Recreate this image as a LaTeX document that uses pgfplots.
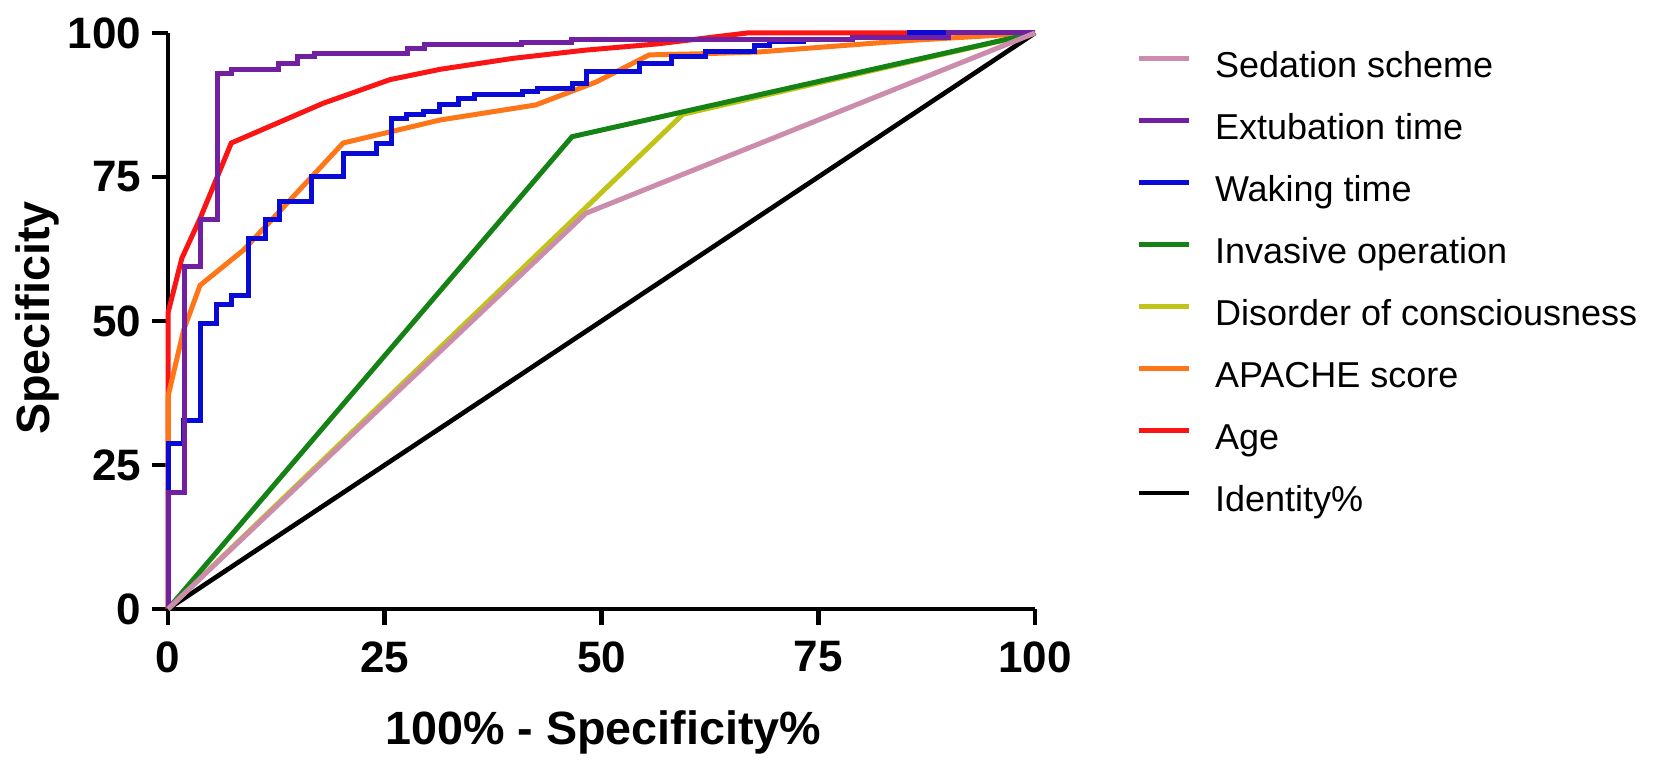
\documentclass[border=0pt]{standalone}
\usepackage{fontspec}
\setmainfont{Liberation Sans}
\usepackage{pgfplots}
\pgfplotsset{compat=1.18}

\definecolor{sedation}{RGB}{204,140,172}
\definecolor{extubation}{RGB}{112,32,160}
\definecolor{waking}{RGB}{10,10,215}
\definecolor{invasive}{RGB}{20,130,20}
\definecolor{disorder}{RGB}{192,196,24}
\definecolor{apache}{RGB}{255,118,24}
\definecolor{age}{RGB}{250,20,20}

\begin{document}
\begin{tikzpicture}
\useasboundingbox (0,0) rectangle (503.1pt,230.1pt);
\begin{axis}[
    at={(50.4pt,47.4pt)}, anchor=south west,
    scale only axis, width=260.1pt, height=172.8pt,
    xmin=0, xmax=100, ymin=0, ymax=100,
    axis x line*=bottom, axis y line*=left,
    axis line style={line width=1.4pt, black},
    xtick={0,25,50,75,100}, ytick={0,25,50,75,100},
    tick align=outside, major tick length=4.8pt,
    tick style={line width=1.4pt, black},
    /pgf/number format/assume math mode=true,
    tick label style={font=\fontsize{13.2}{15}\selectfont\bfseries, inner sep=0pt},
    yticklabel style={anchor=east, xshift=-3pt},
    xticklabel style={anchor=north, yshift=-4.8pt},
    xlabel={100\% - Specificity\%},
    ylabel={Specificity},
    label style={font=\fontsize{14}{16}\selectfont\bfseries},
    xlabel style={at={(axis description cs:0.502,-0.2135)}, anchor=center},
    ylabel style={at={(axis description cs:-0.1505,0.505)}, anchor=center, rotate=0},
    clip=false,
    every axis plot/.append style={line width=1.5pt, no marks},
    reverse legend,
    legend cell align=left,
    legend image code/.code={\draw[#1] (0pt,3.9pt) -- (15pt,3.9pt);},
    legend style={
        at={(axis description cs:1.1165,0.9875)}, anchor=north west,
        draw=none, fill=none, inner sep=0pt,
        font=\fontsize{10.8}{13}\selectfont,
        /tikz/column sep=7pt, /tikz/row sep=0pt,
        nodes={inner sep=0pt, text height=11pt, text depth=7.6pt}
    }
]
% Identity
\addplot[black, line width=1.4pt] coordinates {(0,0) (100,100)};
\addlegendentry{Identity\%}
% Age
\addplot[age] coordinates {
    (0,0) (0,51.4) (1.6,60.9) (3.7,67.8) (7.3,80.9) (17.9,87.8) (25.6,91.9)
    (31.4,93.7) (39.8,95.6) (48,97) (56.4,98.1) (66.8,100) (100,100)
};
\addlegendentry{Age}
% APACHE score
\addplot[apache] coordinates {
    (0,0) (0,29.3) (0,36.9) (1.8,48.4) (3.7,56.2) (8.7,62.3) (20.2,80.9)
    (31.4,84.9) (42.4,87.5) (49.4,91.5) (55.5,96.2) (61.6,96.4) (68.1,96.7)
    (85.5,98.7) (100,100)
};
\addlegendentry{APACHE score}
% Disorder of consciousness
\addplot[disorder] coordinates {(0,0) (59.4,85.9) (100,100)};
\addlegendentry{Disorder of consciousness}
% Invasive operation
\addplot[invasive] coordinates {(0,0) (46.6,82.0) (100,100)};
\addlegendentry{Invasive operation}
% Waking time
\addplot[waking] coordinates {
    (0,0) (0,28.8) (1.8,28.8) (1.8,32.8) (3.7,32.8) (3.7,49.6) (5.6,49.6)
    (5.6,52.8) (7.3,52.8) (7.3,54.5) (9.3,54.5) (9.3,64.4) (11.2,64.4)
    (11.2,67.6) (12.9,67.6) (12.9,70.8) (16.6,70.8) (16.6,75.1) (20.2,75.1)
    (20.2,79.1) (24.1,79.1) (24.1,80.9) (25.8,80.9) (25.8,85.2) (27.5,85.2)
    (27.5,85.8) (29.5,85.8) (29.5,86.4) (31.3,86.4) (31.3,87.5) (33.5,87.5)
    (33.5,88.7) (35.4,88.7) (35.4,89.3) (40.9,89.3) (40.9,89.8) (42.6,89.8)
    (42.6,90.4) (46.6,90.4) (46.6,91.3) (48.3,91.3) (48.3,93.3) (54.4,93.3)
    (54.4,94.7) (58.1,94.7) (58.1,95.9) (62,95.9) (62,96.8) (67.7,96.8)
    (67.7,97.9) (69.4,97.9) (69.4,98.5) (73.3,98.5) (73.3,98.8) (79,98.8)
    (79,99.2) (85.5,99.2) (85.5,100) (100,100)
};
\addlegendentry{Waking time}
% Extubation time
\addplot[extubation] coordinates {
    (0,0) (0,20.3) (1.9,20.3) (1.9,59.4) (3.8,59.4) (3.8,67.6) (5.7,67.6)
    (5.7,93.0) (7.3,93.0) (7.3,93.6) (12.8,93.6) (12.8,94.7) (14.9,94.7)
    (14.9,95.9) (16.9,95.9) (16.9,96.5) (27.6,96.5) (27.6,97.3) (29.6,97.3)
    (29.6,98.0) (40.8,98.0) (40.8,98.4) (46.5,98.4) (46.5,98.8) (79,98.8)
    (79,99.3) (90,99.3) (90,100) (100,100)
};
\addlegendentry{Extubation time}
% Sedation scheme
\addplot[sedation] coordinates {(0,0) (48.2,68.7) (100,100)};
\addlegendentry{Sedation scheme}
\end{axis}
\end{tikzpicture}
\end{document}
